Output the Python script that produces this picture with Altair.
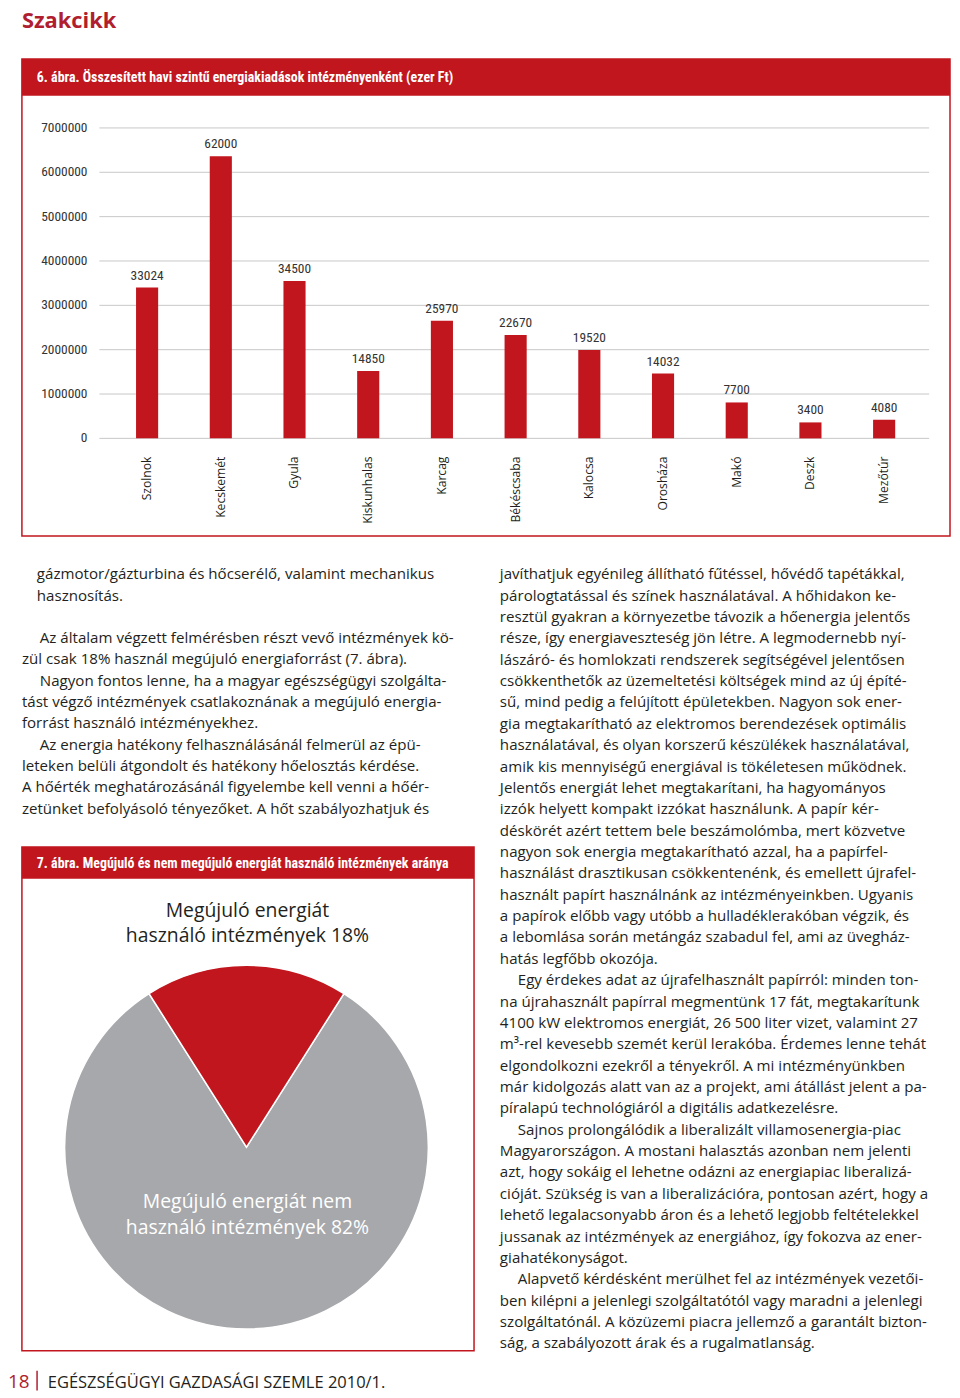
import math
import altair as alt
import pandas as pd

# ---------------- data ----------------
cities = ["Szolnok", "Kecskemét", "Gyula", "Kiskunhalas", "Karcag", "Békéscsaba",
          "Kalocsa", "Orosháza", "Makó", "Deszk", "Mezőtúr"]
bar_values = [3400000, 6360000, 3550000, 1520000, 2650000, 2330000,
              1990000, 1460000, 810000, 360000, 420000]
bar_labels = ["33024", "62000", "34500", "14850", "25970", "22670",
              "19520", "14032", "7700", "3400", "4080"]
y_tick_values = [0, 1000000, 2000000, 3000000, 4000000, 5000000, 6000000, 7000000]
y_tick_labels = ["0", "1000000", "2000000", "3000000", "4000000", "5000000", "6000000", "7000000"]

pie_groups = ["nem megújuló", "megújuló"]
pie_shares = [82, 18]
pie_colors = ["#a7a8ab", "#c1161e"]

page_title = "Szakcikk"
fig6_title = "6. ábra. Összesített havi szintű energiakiadások intézményenként (ezer Ft)"
fig7_title = "7. ábra. Megújuló és nem megújuló energiát használó intézmények aránya"
pie_label_top = ["Megújuló energiát", "használó intézmények 18%"]
pie_label_in = ["Megújuló energiát nem", "használó intézmények  82%"]

left_lead = ["gázmotor/gázturbina és hőcserélő, valamint mechanikus", "hasznosítás."]
left_paragraphs = [
    ["Az általam végzett felmérésben részt vevő intézmények kö-",
     "zül csak 18% használ megújuló energiaforrást (7. ábra)."],
    ["Nagyon fontos lenne, ha a magyar egészségügyi szolgálta-",
     "tást végző intézmények csatlakoznának a megújuló energia-",
     "forrást használó intézményekhez."],
    ["Az energia hatékony felhasználásánál felmerül az épü-",
     "leteken belüli átgondolt és hatékony hőelosztás kérdése.",
     "A hőérték meghatározásánál figyelembe kell venni a hőér-",
     "zetünket befolyásoló tényezőket. A hőt szabályozhatjuk és"],
]
right_lead = [
    "javíthatjuk egyénileg állítható fűtéssel, hővédő tapétákkal,",
    "párologtatással és színek használatával. A hőhidakon ke-",
    "resztül gyakran a környezetbe távozik a hőenergia jelentős",
    "része, így energiaveszteség jön létre. A legmodernebb nyí-",
    "lászáró- és homlokzati rendszerek segítségével jelentősen",
    "csökkenthetők az üzemeltetési költségek mind az új építé-",
    "sű, mind pedig a felújított épületekben. Nagyon sok ener-",
    "gia megtakarítható az elektromos berendezések optimális",
    "használatával, és olyan korszerű készülékek használatával,",
    "amik kis mennyiségű energiával is tökéletesen működnek.",
    "Jelentős energiát lehet megtakarítani, ha hagyományos",
    "izzók helyett kompakt izzókat használunk. A papír kér-",
    "déskörét azért tettem bele beszámolómba, mert közvetve",
    "nagyon sok energia megtakarítható azzal, ha a papírfel-",
    "használást drasztikusan csökkentenénk, és emellett újrafel-",
    "használt papírt használnánk az intézményeinkben. Ugyanis",
    "a papírok előbb vagy utóbb a hulladéklerakóban végzik, és",
    "a lebomlása során metángáz szabadul fel, ami az üvegház-",
    "hatás legfőbb okozója.",
]
right_paragraphs = [
    ["Egy érdekes adat az újrafelhasznált papírról: minden ton-",
     "na újrahasznált papírral megmentünk 17 fát, megtakarítunk",
     "4100 kW elektromos energiát, 26 500 liter vizet, valamint 27",
     "m³-rel kevesebb szemét kerül lerakóba. Érdemes lenne tehát",
     "elgondolkozni ezekről a tényekről. A mi intézményünkben",
     "már kidolgozás alatt van az a projekt, ami átállást jelent a pa-",
     "píralapú technológiáról a digitális adatkezelésre."],
    ["Sajnos prolongálódik a liberalizált villamosenergia-piac",
     "Magyarországon. A mostani halasztás azonban nem jelenti",
     "azt, hogy sokáig el lehetne odázni az energiapiac liberalizá-",
     "cióját. Szükség is van a liberalizációra, pontosan azért, hogy a",
     "lehető legalacsonyabb áron és a lehető legjobb feltételekkel",
     "jussanak az intézmények az energiához, így fokozva az ener-",
     "giahatékonyságot."],
    ["Alapvető kérdésként merülhet fel az intézmények vezetői-",
     "ben kilépni a jelenlegi szolgáltatótól vagy maradni a jelenlegi",
     "szolgáltatónál. A közüzemi piacra jellemző a garantált bizton-",
     "ság, a szabályozott árak és a rugalmatlanság."],
]
footer_page = "18"
footer_text = "EGÉSZSÉGÜGYI GAZDASÁGI SZEMLE 2010/1."

# ---------------- styling / layout ----------------
M = 8  # page margin


def X(v):
    return v - M


def Y(v):
    return v - M


RED = "#c1161e"
DARKRED = "#b01e2f"
INK = "#231f20"
BODY_FONT = "Open Sans"
COND_FONT = "Roboto Condensed"
BODY_SIZE = 15.2
LH = 21.5
INDENT = 18

one = pd.DataFrame({"k": [0]})


def text_at(text, x, y, **kw):
    return alt.Chart(one).mark_text(text=text, **kw).encode(
        x=alt.value(X(x)), y=alt.value(Y(y)))


def rect_at(x1, y1, x2, y2, **kw):
    return alt.Chart(one).mark_rect(**kw).encode(
        x=alt.value(X(x1)), x2=alt.value(X(x2)), y=alt.value(Y(y1)), y2=alt.value(Y(y2)))


body_kw = dict(font=BODY_FONT, fontSize=BODY_SIZE, color=INK, align="left", baseline="top",
               lineHeight=LH)


def paragraphs_at(paras, x, y0):
    out = []
    i = 0
    for para in paras:
        out.append(text_at(para[0], x + INDENT, y0 + i * LH, **body_kw))
        if len(para) > 1:
            out.append(text_at(para[1:], x, y0 + (i + 1) * LH, **body_kw))
        i += len(para)
    return out


layers = []

# page header
layers.append(text_at(page_title, 22, 24, font=BODY_FONT, fontSize=22, fontWeight="bold",
                      color=DARKRED, align="left", baseline="alphabetic"))

# ---- figure 6 frame ----
layers.append(rect_at(22, 55, 956, 535, fill="#ffffff", stroke=RED, strokeWidth=1.5))
layers.append(rect_at(22, 55, 956, 92, fill=RED))
layers.append(text_at(fig6_title, 37, 74, font=COND_FONT, fontSize=14, fontWeight="bold",
                      color="#ffffff", align="left", baseline="middle"))

bars_df = pd.DataFrame({"city": cities, "value": bar_values, "label": bar_labels})
ticks_df = pd.DataFrame({"tick": y_tick_values, "tlabel": y_tick_labels})

xs = alt.Scale(domain=cities, range=[X(110.9), X(926.8)], paddingInner=0.7, paddingOuter=0.35)
ys = alt.Scale(domain=[0, 7000000], range=[Y(436.7), Y(124.3)], nice=False, zero=True)

grid = alt.Chart(ticks_df).mark_rule(color="#c8c8c8", strokeWidth=1).encode(
    y=alt.Y("tick:Q", scale=ys, axis=None), x=alt.value(X(100)), x2=alt.value(X(935)))
tick_text = alt.Chart(ticks_df).mark_text(font=COND_FONT, fontSize=13.5, color="#333333",
                                          align="right", baseline="middle").encode(
    y=alt.Y("tick:Q", scale=ys, axis=None), x=alt.value(X(88)), text="tlabel:N")
bars = alt.Chart(bars_df).mark_bar(color=RED).encode(
    x=alt.X("city:N", scale=xs, axis=None, sort=cities),
    y=alt.Y("value:Q", scale=ys, axis=None))
bar_text = alt.Chart(bars_df).mark_text(font=COND_FONT, fontSize=13.5, color="#333333",
                                        align="center", baseline="alphabetic", dy=-8).encode(
    x=alt.X("city:N", scale=xs, axis=None, sort=cities),
    y=alt.Y("value:Q", scale=ys, axis=None), text="label:N")
city_text = alt.Chart(bars_df).mark_text(font=BODY_FONT, fontSize=12.2, color=INK, angle=270,
                                         align="right", baseline="middle").encode(
    x=alt.X("city:N", scale=xs, axis=None, sort=cities), y=alt.value(Y(455)), text="city:N")
layers += [grid, tick_text, bars, bar_text, city_text]

# ---- body text ----
layers.append(text_at(left_lead, 37, 566.5, **body_kw))
layers += paragraphs_at(left_paragraphs, 22, 630.5)
layers.append(text_at(right_lead, 503, 566.5, **body_kw))
layers += paragraphs_at(right_paragraphs, 503, 566.5 + len(right_lead) * LH)

# ---- figure 7 frame ----
layers.append(rect_at(22, 848, 477, 1355, fill="#ffffff", stroke=RED, strokeWidth=1.5))
layers.append(rect_at(22, 848, 477, 880, fill=RED))
layers.append(text_at(fig7_title, 37, 865, font=COND_FONT, fontSize=14, fontWeight="bold",
                      color="#ffffff", align="left", baseline="middle"))

pie_df = pd.DataFrame({"group": pie_groups, "share": pie_shares, "ord": [0, 1]})
start = pie_shares[1] / 100 * math.pi  # centres the small slice on 12 o'clock
pie = alt.Chart(pie_df).mark_arc(outerRadius=183, stroke="#ffffff", strokeWidth=1.5).encode(
    theta=alt.Theta("share:Q", stack=True,
                    scale=alt.Scale(domain=[0, 100], range=[start, start + 2 * math.pi])),
    color=alt.Color("group:N", scale=alt.Scale(domain=pie_groups, range=pie_colors), legend=None),
    order=alt.Order("ord:Q"),
    x=alt.value(X(248)), y=alt.value(Y(1150)))
layers.append(pie)
layers.append(text_at(pie_label_top, 249, 903, font=BODY_FONT, fontSize=19.5, color=INK,
                      align="center", baseline="top", lineHeight=26))
layers.append(text_at(pie_label_in, 249, 1196, font=BODY_FONT, fontSize=19.5, color="#ffffff",
                      align="center", baseline="top", lineHeight=26))

# ---- footer ----
layers.append(text_at(footer_page, 8, 1392, font=BODY_FONT, fontSize=19, color=DARKRED,
                      align="left", baseline="alphabetic"))
layers.append(rect_at(36.5, 1375, 38, 1395, fill=DARKRED))
layers.append(text_at(footer_text, 48, 1392, font=BODY_FONT, fontSize=16.6, color=INK,
                      align="left", baseline="alphabetic"))

chart = alt.layer(*layers).properties(
    width=950, height=1386, padding=0, background="#ffffff",
    autosize=alt.AutoSizeParams(type="none"),
).configure_view(strokeWidth=0, stroke="transparent")

chart.save("out.html", embed_options={"renderer": "svg", "actions": False})
